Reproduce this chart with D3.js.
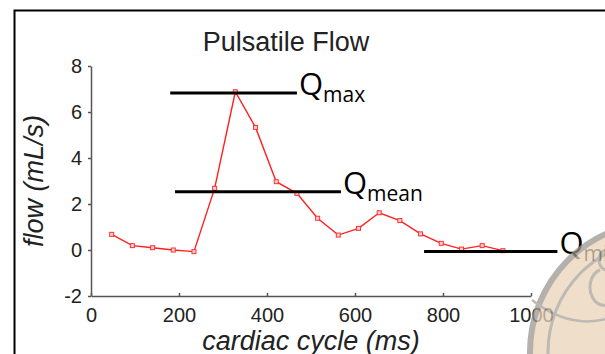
<!DOCTYPE html>
<html>
<head>
<meta charset="utf-8">
<script src="https://cdn.jsdelivr.net/npm/d3@7"></script>
<style>
    body { margin: 0; background: #fff; }
    svg { display: block; }
    .axis path, .axis line { stroke: #555; stroke-width: 1.5; }
    .axis text { font-family: "Liberation Sans", Arial, sans-serif; font-size: 20px; fill: #222; }
    .title { font-family: "Liberation Sans", Arial, sans-serif; font-size: 27px; fill: #222; }
    .axis-title { font-family: "Liberation Sans", Arial, sans-serif; font-size: 27px; font-style: italic; fill: #222; }
    .qlabel { font-family: "Open Sans", sans-serif; fill: #000; }
</style>
</head>
<body>
<svg id="chart" width="605" height="354"></svg>
<script>
    // flow samples over one cardiac cycle
    const timeMs = [47, 94, 140, 187, 234, 281, 328, 374, 421, 468, 515, 562, 608, 655, 702, 749, 796, 842, 889, 936];
    const flowMlS = [0.68, 0.19, 0.10, 0.00, -0.07, 2.68, 6.88, 5.33, 2.97, 2.46, 1.38, 0.65, 0.94, 1.62, 1.28, 0.70, 0.29, 0.04, 0.19, -0.03];

    // Q reference lines
    const qNames = ["max", "mean", "min"];
    const qLevels = [6.83, 2.53, -0.07];
    const qStarts = [180, 191, 757];
    const qEnds = [468, 568, 1060];

    const xTicks = [0, 200, 400, 600, 800, 1000];
    const yTicks = [-2, 0, 2, 4, 6, 8];

    const svg = d3.select("#chart");

    const x = d3.scaleLinear().domain([0, 1000]).range([91, 531]);
    const y = d3.scaleLinear().domain([-2, 8]).range([296, 66]);

    // outer frame
    svg.append("rect")
        .attr("x", 14.5).attr("y", 10.5)
        .attr("width", 700).attr("height", 400)
        .attr("fill", "none").attr("stroke", "#000").attr("stroke-width", 2);

    svg.append("text").attr("class", "title")
        .attr("x", 286).attr("y", 51)
        .attr("text-anchor", "middle")
        .text("Pulsatile Flow");

    let xAxis = svg.append("g").attr("class", "x axis")
        .attr("transform", "translate(0," + y(-2) + ")")
        .call(d3.axisBottom(x).tickValues(xTicks).tickFormat(d => String(d))
            .tickSizeInner(-3).tickSizeOuter(0).tickPadding(12));
    xAxis.selectAll("text").attr("dy", "0.71em");

    svg.append("g").attr("class", "y axis")
        .attr("transform", "translate(" + x(0) + ",0)")
        .call(d3.axisLeft(y).tickValues(yTicks).tickFormat(d => String(d))
            .tickSizeInner(3).tickSizeOuter(0).tickPadding(6));

    svg.append("text").attr("class", "axis-title")
        .attr("x", 311).attr("y", 350)
        .attr("text-anchor", "middle")
        .text("cardiac cycle (ms)");

    svg.append("text").attr("class", "axis-title")
        .attr("transform", "translate(43,181) rotate(-90)")
        .attr("text-anchor", "middle")
        .text("flow (mL/s)");

    let pts = timeMs.map((t, i) => ({t: t, q: flowMlS[i]}));

    svg.append("path")
        .datum(pts)
        .attr("fill", "none")
        .attr("stroke", "#ff2020")
        .attr("stroke-width", 1.4)
        .attr("d", d3.line().x(d => x(d.t)).y(d => y(d.q)));

    svg.selectAll("rect.marker").data(pts)
        .enter().append("rect")
            .attr("class", "marker")
            .attr("x", d => x(d.t) - 2)
            .attr("y", d => y(d.q) - 2)
            .attr("width", 4).attr("height", 4)
            .attr("fill", "#ffd0d0")
            .attr("stroke", "#ff3030")
            .attr("stroke-width", 1);

    let qs = qNames.map((n, i) => ({name: n, level: qLevels[i], x0: qStarts[i], x1: qEnds[i]}));

    svg.selectAll("line.q").data(qs)
        .enter().append("line")
            .attr("class", "q")
            .attr("x1", d => x(d.x0))
            .attr("x2", d => x(d.x1))
            .attr("y1", d => y(d.level))
            .attr("y2", d => y(d.level))
            .attr("stroke", "#000")
            .attr("stroke-width", 3);

    let labels = svg.selectAll("text.qlabel").data(qs)
        .enter().append("text")
            .attr("class", "qlabel")
            .attr("x", d => x(d.x1) + 2)
            .attr("y", d => y(d.level) + 2);
    labels.append("tspan").attr("font-size", 31).text("Q");
    labels.append("tspan").attr("font-size", 21).attr("dy", 7).text(d => d.name);

    // faded seal in the corner
    let seal = svg.append("g").attr("opacity", 0.75);
    seal.append("circle").attr("cx", 660).attr("cy", 352).attr("r", 130)
        .attr("fill", "#ead4b8").attr("stroke", "#9c9690").attr("stroke-width", 6);
    seal.append("circle").attr("cx", 660).attr("cy", 352).attr("r", 112)
        .attr("fill", "none").attr("stroke", "#a8a29c").attr("stroke-width", 3);
    seal.append("path").attr("d", "M532,300 Q570,330 610,318")
        .attr("fill", "none").attr("stroke", "#a8a29c").attr("stroke-width", 2.5);
    seal.append("path").attr("d", "M600,270 a14,18 0 1,0 8,0 a8,10 0 1,0 -2,0")
        .attr("fill", "none").attr("stroke", "#a8a29c").attr("stroke-width", 3);
</script>
</body>
</html>
